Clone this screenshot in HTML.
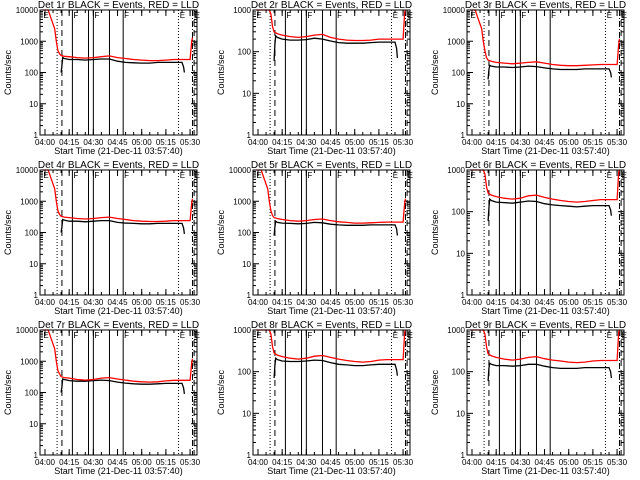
<!DOCTYPE html>
<html><head><meta charset="utf-8"><style>
html,body{margin:0;padding:0;background:#fff;}
svg{display:block;}
text{font-family:"Liberation Sans",sans-serif;fill:#000;}
</style></head><body>
<svg id="fig" width="640" height="480" xmlns="http://www.w3.org/2000/svg"></svg>
<script>
const panelNames = ["1r","2r","3r","4r","5r","6r","7r","8r","9r"];
const panelMax = [10000,1000,10000,10000,10000,1000,10000,1000,1000];
const xTickLabels = ["04:00","04:15","04:30","04:45","05:00","05:15","05:30"];
const xTickMinutes = [0,15,30,45,60,75,90];
const blackTimes = [10,10.5,11,12,15,20,25,30,35,40,45,50,55,60,65,70,75,80,85,86,86.5];
const redTimes = [-1,2,4,6,7,8,9,10,12,15,20,25,30,35,40,45,50,55,60,65,70,75,80,85,88,90,91,91.5];
const blackVals = [
 [100,160,300,280,260,260,250,260,270,270,230,210,205,200,200,210,210,210,210,150,100],
 [60,150,240,220,200,190,190,195,210,200,180,165,160,160,160,165,170,170,170,120,70],
 [60,120,170,160,150,150,145,150,160,155,140,130,125,125,125,130,130,130,130,100,70],
 [100,150,260,250,230,230,220,230,240,240,210,200,195,190,190,195,195,195,195,140,90],
 [80,150,230,210,200,195,190,195,210,205,185,175,170,170,170,175,175,175,175,130,80],
 [60,120,200,185,170,165,160,170,180,175,155,145,140,135,130,135,140,140,140,110,80],
 [100,150,270,260,240,230,230,240,250,240,215,200,190,185,185,190,195,195,195,140,90],
 [70,140,210,195,180,175,175,180,190,185,165,150,145,140,140,145,150,150,150,110,80],
 [60,120,160,150,140,140,135,140,150,150,135,125,120,120,120,125,125,125,125,100,70]];
const redVals = [
 [10000,10000,5000,2500,1000,500,400,350,330,320,300,290,300,320,340,300,280,260,250,240,240,250,260,260,260,260,1000,1300],
 [10000,10000,5000,2500,1500,800,400,300,270,250,230,220,230,250,260,220,200,190,185,185,190,200,200,200,200,200,900,1300],
 [10000,10000,5000,2500,1000,500,300,250,230,210,200,190,200,210,220,200,180,170,165,165,170,175,180,180,180,180,800,1200],
 [10000,10000,5000,2500,1000,500,380,330,310,300,280,270,280,300,310,280,260,240,230,225,225,230,240,240,240,240,900,1200],
 [10000,10000,5000,2500,1000,500,350,300,280,260,240,230,240,260,270,240,220,210,200,200,205,210,215,215,215,215,900,1200],
 [10000,10000,5000,2500,1500,800,400,280,250,230,210,200,210,240,250,220,200,185,175,170,175,185,195,195,195,195,900,1300],
 [10000,10000,5000,2500,1000,500,400,320,300,290,260,250,260,290,300,270,250,230,220,215,220,235,245,245,245,245,900,1200],
 [10000,10000,5000,2500,1500,800,400,280,250,230,210,200,210,235,245,220,200,185,175,170,175,190,195,195,195,195,900,1300],
 [10000,10000,5000,2500,1500,800,400,270,240,220,200,190,200,220,230,205,190,180,170,165,170,180,185,185,185,185,900,1300]];
const vDotted = [7.5,82.8];
const vDashed = [10.5,92.5];
const vSolid = [17,27,30,40,48.5];
const vDashDot = [91.5];

const NS="http://www.w3.org/2000/svg";
const svg=document.getElementById('fig');
function mk(tag,attrs,parent){const e=document.createElementNS(NS,tag);for(const k in attrs)e.setAttribute(k,attrs[k]);(parent||svg).appendChild(e);return e;}
const W=157,H=125,T0=-3.1,T1=94.3;
for(let p=0;p<9;p++){
  const col=p%3,row=Math.floor(p/3);
  const L=[0,213,427][col]+40, Tp=row*160+10, B=Tp+H, R=L+W;
  const g=mk('g',{});
  
  
  const max=panelMax[p], dec=Math.log10(max);
  const xs=t=>L+(t-T0)/(T1-T0)*W;
  const ys=v=>B-Math.log10(Math.max(1,Math.min(v,max)))/dec*H;
  // title
  const ti=mk('text',{x:(L+R)/2,y:Tp-2,'font-size':10,'text-anchor':'middle'},g);
  ti.textContent='Det '+panelNames[p]+' BLACK = Events, RED = LLD';
  
  
  // y label
  const yl=mk('text',{x:0,y:0,'font-size':9,'text-anchor':'middle',transform:`translate(${L-29},${(Tp+B)/2}) rotate(-90)`},g);
  yl.textContent='Counts/sec';
  
  
  // x label
  const xl=mk('text',{x:(L+R)/2,y:B+19,'font-size':9,'text-anchor':'middle'},g);
  xl.textContent='Start Time (21-Dec-11 03:57:40)';
  
  
  // y ticks
  for(let d=0;d<=dec;d++){
    const v=Math.pow(10,d),y=ys(v);
    mk('line',{x1:L,x2:L+6,y1:y,y2:y,stroke:'#000'},g);
    mk('line',{x1:R,x2:R-6,y1:y,y2:y,stroke:'#000'},g);
    const tl=mk('text',{x:L-2,y:y+3,'font-size':8,'text-anchor':'end'},g);
    tl.textContent=String(v);
    
    
    if(d<dec)for(let m=2;m<10;m++){const yy=ys(v*m);
      mk('line',{x1:L,x2:L+3,y1:yy,y2:yy,stroke:'#000'},g);
      mk('line',{x1:R,x2:R-3,y1:yy,y2:yy,stroke:'#000'},g);}
  }
  // x ticks
  xTickMinutes.forEach((t,i)=>{const x=xs(t);
    mk('line',{x1:x,x2:x,y1:B,y2:B-6,stroke:'#000'},g);
    mk('line',{x1:x,x2:x,y1:Tp,y2:Tp+6,stroke:'#000'},g);
    const tl=mk('text',{x:x,y:B+10,'font-size':8,'text-anchor':'middle'},g);
    tl.textContent=xTickLabels[i];
    
    });
  for(let t=0;t<T1;t+=5){const x=xs(t);
    mk('line',{x1:x,x2:x,y1:B,y2:B-3,stroke:'#000'},g);
    mk('line',{x1:x,x2:x,y1:Tp,y2:Tp+3,stroke:'#000'},g);}
  // vertical markers
  vDotted.forEach(t=>mk('line',{x1:xs(t),x2:xs(t),y1:Tp,y2:B,stroke:'#000','stroke-dasharray':'1,2'},g));
  vDashed.forEach(t=>mk('line',{x1:xs(t),x2:xs(t),y1:Tp,y2:B,stroke:'#000','stroke-dasharray':'6,4'},g));
  vSolid.forEach(t=>mk('line',{x1:xs(t),x2:xs(t),y1:Tp,y2:B,stroke:'#000'},g));
  vDashDot.forEach(t=>mk('line',{x1:xs(t),x2:xs(t),y1:Tp,y2:B,stroke:'#000','stroke-dasharray':'6,2,1,2'},g));
  [[T0+1.5,'E'],[17,'F'],[30,'F'],[48.5,'F'],[83,'E'],[92.2,'E']].forEach(([t,s])=>{
    const lt=mk('text',{x:xs(t)+1,y:Tp+8,'font-size':8},g);lt.textContent=s;
    
    });
  // series
  const bp=blackTimes.map((t,i)=>xs(t).toFixed(1)+','+ys(blackVals[p][i]).toFixed(1)).join(' ');
  const bl=mk('polyline',{points:bp,fill:'none',stroke:'#000','stroke-width':1.3},g);
  
  
  const rp=redTimes.map((t,i)=>xs(t).toFixed(1)+','+ys(redVals[p][i]).toFixed(1)).join(' ');
  const rl=mk('polyline',{points:rp,fill:'none',stroke:'#f00','stroke-width':1.3},g);
  
  
  // box
  mk('rect',{x:L,y:Tp,width:W,height:H,fill:'none',stroke:'#000','stroke-width':1},g);
}
</script>
</body></html>
